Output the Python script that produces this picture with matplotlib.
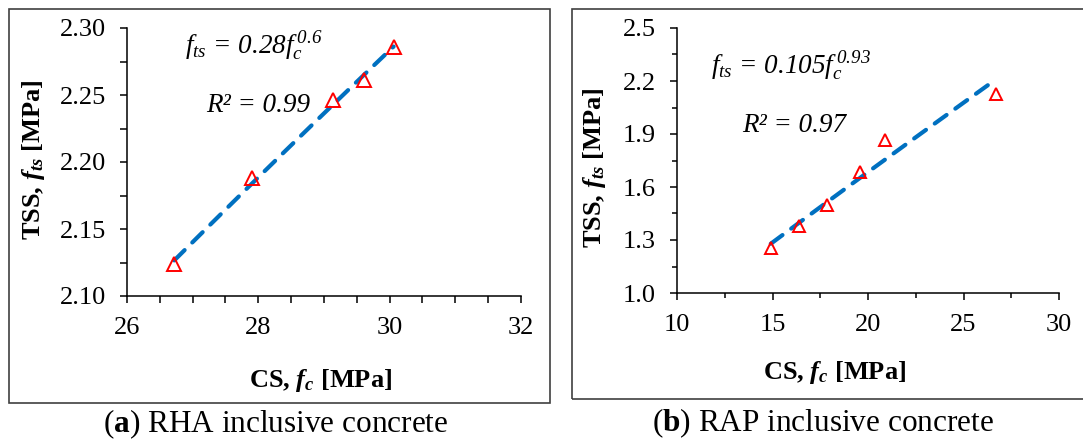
import numpy as np
import matplotlib
matplotlib.use("Agg")
import matplotlib.pyplot as plt
from matplotlib.patches import Rectangle
from matplotlib.ticker import MultipleLocator, FixedLocator, FormatStrFormatter

plt.rcParams['font.family'] = ['Liberation Serif', 'DejaVu Serif']
plt.rcParams['mathtext.fontset'] = 'custom'
plt.rcParams['mathtext.rm'] = 'Liberation Serif:italic'
plt.rcParams['mathtext.it'] = 'Liberation Serif:italic'
plt.rcParams['mathtext.bf'] = 'Liberation Serif:bold'
plt.rcParams['mathtext.bfit'] = 'Liberation Serif:bold:italic'

# ---- data ----
rha_cs = [26.72, 27.91, 29.14, 29.61, 30.06]
rha_tss = [2.124, 2.188, 2.246, 2.261, 2.286]
rap_cs = [14.91, 16.39, 17.87, 19.58, 20.89, 26.70]
rap_tss = [1.256, 1.381, 1.498, 1.683, 1.866, 2.125]

rha_yticks = [2.10, 2.15, 2.20, 2.25, 2.30]
rap_yticks = [1.0, 1.3, 1.6, 1.9, 2.2, 2.5]

rha_eq = r'$f_{ts}$ = 0.28$f_c^{\,0.6}$'
rha_r2 = 'R² = 0.99'
rap_eq = r'$f_{ts}$ = 0.105$f_c^{\,0.93}$'
rap_r2 = 'R² = 0.97'

W, H = 1083, 443
fig = plt.figure(figsize=(W / 100, H / 100), dpi=100)


def fx(x):
    return x / W


def fy(y):
    return (H - y) / H


def axes_px(x0, y0, x1, y1):
    return fig.add_axes([fx(x0), fy(y1), fx(x1 - x0), (y1 - y0) / H])


# frames
fig.patches.append(Rectangle((fx(9.3), fy(403.3)), fx(550.3 - 9.3), (403.3 - 9.3) / H,
                             transform=fig.transFigure, fill=False, ec='#404040', lw=1.2))
fig.patches.append(Rectangle((fx(571.7), fy(399.3)), fx(1095 - 571.7), (399.3 - 9.3) / H,
                             transform=fig.transFigure, fill=False, ec='#404040', lw=1.2))

BLUE = '#0070C0'


def power_fit(x, y):
    x = np.asarray(x)
    y = np.asarray(y)
    b, ln_a = np.polyfit(np.log(x), np.log(y), 1)
    return np.exp(ln_a), b


def panel(ax, xs, ys, xlim, ylim, xmaj, xmin_, yticks, yfmt, ms, minor_len):
    a, b = power_fit(xs, ys)
    xx = np.linspace(min(xs), max(xs), 100)
    ax.plot(xx, a * xx ** b, color=BLUE, lw=3, dashes=(3.5, 2.6), dash_capstyle='round')
    ax.plot(xs, ys, linestyle='none', marker='^', ms=ms, mfc='none', mec='#FF0000', mew=1.4)
    ax.set_xlim(*xlim)
    ax.set_ylim(*ylim)
    ax.xaxis.set_major_locator(MultipleLocator(xmaj))
    ax.xaxis.set_minor_locator(MultipleLocator(xmin_))
    ax.yaxis.set_major_locator(FixedLocator(yticks))
    step = yticks[1] - yticks[0]
    ax.yaxis.set_minor_locator(FixedLocator([t + step / 2 for t in yticks[:-1]]))
    ax.yaxis.set_major_formatter(FormatStrFormatter(yfmt))
    for s in ['top', 'right']:
        ax.spines[s].set_visible(False)
    for s in ['left', 'bottom']:
        ax.spines[s].set_linewidth(1.1)
    ax.tick_params(which='major', direction='out', length=5, width=1.1, labelsize=19, pad=10)
    ax.tick_params(which='minor', direction='out', length=minor_len, width=1.1)
    ax.patch.set_alpha(0)


ax1 = axes_px(127, 28, 521, 296)
panel(ax1, rha_cs, rha_tss, (26, 32), (2.10, 2.30), 2, 0.5, rha_yticks, '%.2f', 10, 5)
ax2 = axes_px(677, 28, 1059, 293)
panel(ax2, rap_cs, rap_tss, (10, 30), (1.0, 2.5), 5, 2.5, rap_yticks, '%.1f', 8, 3.6)

# axis labels
xl = r'CS, $\mathbfit{f}_{\mathbfit{c}}$ [MPa]'
yl = r'TSS, $\mathbfit{f}_{\mathbfit{ts}}$ [MPa]'
fig.text(fx(321), fy(380), xl, fontsize=19, fontweight='bold', ha='center', va='center')
fig.text(fx(835), fy(372), xl, fontsize=19, fontweight='bold', ha='center', va='center')
fig.text(fx(34), fy(160), yl, fontsize=19, fontweight='bold', ha='center', va='center', rotation=90)
fig.text(fx(595), fy(168), yl, fontsize=19, fontweight='bold', ha='center', va='center', rotation=90)

# equations
fig.text(fx(185), fy(45), rha_eq, fontsize=19.5, style='italic', ha='left', va='center')
fig.text(fx(206), fy(105), rha_r2, fontsize=19.5, style='italic', ha='left', va='center')
fig.text(fx(711), fy(65), rap_eq, fontsize=19.5, style='italic', ha='left', va='center')
fig.text(fx(742), fy(125), rap_r2, fontsize=19.5, style='italic', ha='left', va='center')

# captions
fig.text(fx(276), fy(424), r'($\mathbf{a}$) RHA inclusive concrete', fontsize=22.5, ha='center', va='center')
fig.text(fx(823), fy(423), r'($\mathbf{b}$) RAP inclusive concrete', fontsize=22.5, ha='center', va='center')

fig.savefig('out.png', dpi=100)
